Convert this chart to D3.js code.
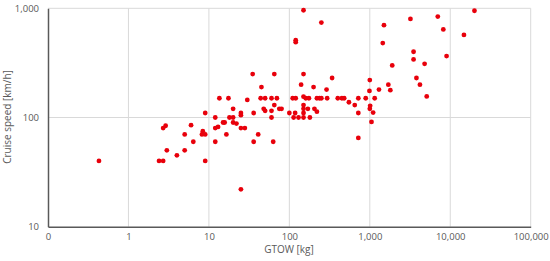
<!DOCTYPE html>
<html><head><meta charset="utf-8">
<script src="https://cdn.jsdelivr.net/npm/d3@7"></script>
<style>body{margin:0;background:#fff}svg{display:block}text{font-family:"Open Sans","Liberation Sans",sans-serif;fill:#595959}</style>
</head><body>
<svg id="c" width="550" height="261"></svg>
<script>
const gtow = [0.43,2.4,2.7,2.7,2.9,3.0,4.0,5,5,6,6.4,8.4,8.2,9,9,9,12,12,13,12,13.5,17.5,15,15.7,16.5,18,20,20,20,22,25,25,25,28,25,30,35,36,36,41,44,50,45,48,50,60,70,60,60,63,65,65,75,80,100,110,120,118,113,130,120,120,150,150,140,150,160,175,150,150,150,150,170,180,200,205,220,220,237,250,250,290,295,340,400,450,480,550,650,720,720,720,890,1000,990,1010,1000,1100,1050,1150,1300,1450,1500,1700,1800,1900,3200,3500,3500,3800,4200,4800,5100,7000,8200,9000,14800,20000];
const speed = [40,40,40,80,84,50,45,70,50,85,60,75,70,70,110,40,100,80,82,60,150,150,90,90,70,100,120,100,90,88,110,105,80,80,22,145,250,110,60,70,150,150,190,120,115,150,150,115,100,60,250,130,120,120,110,150,150,110,100,100,510,490,960,250,200,155,150,150,130,120,110,100,120,100,190,120,113,150,150,150,740,180,150,230,150,150,150,138,130,150,110,65,150,220,175,128,120,111,91,150,180,480,700,200,178,300,800,400,340,230,200,310,156,840,640,365,570,950];
const xTicks = [0.1,1,10,100,1000,10000,100000];
const xTickLabels = ["0","1","10","100","1,000","10,000","100,000"];
const yTicks = [10,100,1000];
const yTickLabels = ["10","100","1,000"];

const svg = d3.select("#c");
const L=48, R=530.7, T=8.3, B=226.7;
const x = d3.scaleLog().domain([0.1,100000]).range([L,R]);
const y = d3.scaleLog().domain([10,1000]).range([B,T]);

// gridlines
svg.append("g").selectAll("line").data(xTicks.slice(1)).join("line")
  .attr("x1",d=>x(d)).attr("x2",d=>x(d)).attr("y1",T).attr("y2",B)
  .attr("stroke","#d9d9d9").attr("stroke-width",1);
svg.append("g").selectAll("line").data(yTicks.slice(1)).join("line")
  .attr("x1",L).attr("x2",R).attr("y1",d=>y(d)).attr("y2",d=>y(d))
  .attr("stroke","#d9d9d9").attr("stroke-width",1);

// axes
const xAxis = d3.axisBottom(x).tickValues(xTicks).tickSize(0).tickPadding(7)
  .tickFormat((d,i)=>xTickLabels[i]);
const gx = svg.append("g").attr("transform",`translate(0,${B})`).call(xAxis);
gx.select(".domain").attr("stroke","#595959").attr("stroke-width",1.5);
gx.selectAll("text").attr("font-size","9.5px").style("font-family","'Open Sans','Liberation Sans',sans-serif").attr("fill","#595959");

const yAxis = d3.axisLeft(y).tickValues(yTicks).tickSize(0).tickPadding(9)
  .tickFormat((d,i)=>yTickLabels[i]);
const gy = svg.append("g").attr("transform",`translate(${L},0)`).call(yAxis);
gy.select(".domain").attr("stroke","#595959").attr("stroke-width",1.5);
gy.selectAll("text").attr("font-size","9.5px").style("font-family","'Open Sans','Liberation Sans',sans-serif").attr("fill","#595959");

// points
svg.append("g").selectAll("circle").data(gtow.map((g,i)=>[g,speed[i]])).join("circle")
  .attr("cx",d=>x(d[0])).attr("cy",d=>y(d[1])).attr("r",2.4).attr("fill","#e8000b");

// titles
svg.append("text").attr("x",289).attr("y",253).attr("text-anchor","middle")
  .attr("font-size","10px").text("GTOW [kg]");
svg.append("text").attr("transform","translate(11,117) rotate(-90)").attr("text-anchor","middle")
  .attr("font-size","10px").text("Cruise speed [km/h]");
</script>
</body></html>
